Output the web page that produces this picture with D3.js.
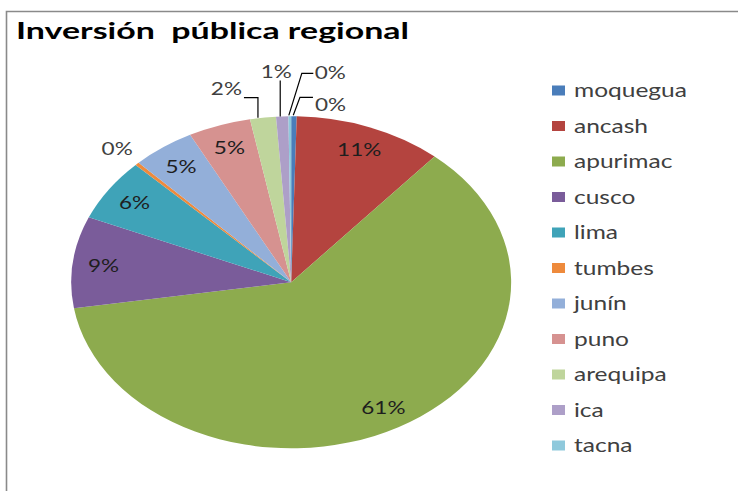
<!DOCTYPE html>
<html>
<head>
<meta charset="utf-8">
<script src="https://cdn.jsdelivr.net/npm/d3@7"></script>
<style>
  html, body { margin: 0; padding: 0; background: #fff; }
  svg { display: block; }
  text { font-family: Lato, "Open Sans", sans-serif; white-space: pre; }
</style>
</head>
<body>
<svg id="chart" width="738" height="491"></svg>
<script>
// ---------- data ----------
const title = "Inversión  pública regional";
const regions = ["moquegua", "ancash", "apurimac", "cusco", "lima", "tumbes", "junín", "puno", "arequipa", "ica", "tacna"];
const values  = [0.4, 10.9, 61.2, 8.9, 6.1, 0.3, 4.6, 4.6, 1.9, 0.9, 0.2];
const colors  = ["#4A7DBA", "#B4443F", "#8DAB4E", "#7A5C9A", "#3FA3B8", "#EE8A3C", "#93AFD9", "#D69290", "#BFD59C", "#AD9FC8", "#8FC9DC"];

// ---------- layout ----------
const W = 738, H = 491;
const sx = 1.325;              // horizontal stretch of the whole chart
const cx = 291.2 / sx, cy = 282.3, R = 166;
const inLabelR = 0.86 * R;
// outside labels (screen px offsets from the slice's outer edge point)
const outside = {
  "tumbes":   {pts: [], anchor: "middle", tx: -20, ty: -16},
  "arequipa": {pts: [[-5,0],[-5,-20],[-19,-20]], anchor: "end", tx: -21, ty: -30},
  "ica":      {pts: [[-2,0],[-2,-36]], anchor: "middle", tx: -6, ty: -45},
  "tacna":    {pts: [[-1,-1],[12,-43],[23.5,-43]], anchor: "start", tx: 25, ty: -44},
  "moquegua": {pts: [[-0.7,-1],[6,-19],[19,-19]], anchor: "start", tx: 21, ty: -12.5}
};

const svg = d3.select("#chart");
svg.append("rect").attr("width", W).attr("height", H).attr("fill", "#fff");
// chart border
svg.append("path").attr("d", `M6.5,${H} V11.5 H${W}`)
  .attr("fill", "none").attr("stroke", "#8a8a8a").attr("stroke-width", 1.6);

const g = svg.append("g").attr("transform", `scale(${sx},1)`);

g.append("text").attr("x", 16 / sx).attr("y", 39.5)
  .attr("font-size", 22.5).attr("font-weight", 700).attr("fill", "#000")
  .attr("textLength", 393 / sx).attr("lengthAdjust", "spacingAndGlyphs")
  .text(title);

const color = d3.scaleOrdinal().domain(regions).range(colors);
const total = d3.sum(values);
const fmt = d3.format(".0%");
const data = regions.map((r, i) => ({name: r, value: values[i]}));

const pie = d3.pie().sort(null).value(d => d.value).startAngle(0).endAngle(2 * Math.PI);
const arcs = pie(data);
const arc = d3.arc().innerRadius(0).outerRadius(R);
const edgeArc = d3.arc().innerRadius(R).outerRadius(R);
const labelArc = d3.arc().innerRadius(inLabelR).outerRadius(inLabelR);

const pg = g.append("g").attr("transform", `translate(${cx},${cy})`);
pg.selectAll("path.slice").data(arcs).join("path")
  .attr("class", "slice")
  .attr("d", arc)
  .attr("fill", d => color(d.data.name));

const labelFont = 17;
arcs.forEach(d => {
  const txt = fmt(d.data.value / total);
  const o = outside[d.data.name];
  if (!o) {
    const [x, y] = labelArc.centroid(d);
    pg.append("text").attr("x", x).attr("y", y)
      .attr("text-anchor", "middle").attr("dominant-baseline", "central")
      .attr("font-size", labelFont).attr("fill", "#1e1e1e").text(txt);
  } else {
    const [ex, ey] = edgeArc.centroid(d);
    if (o.pts.length) {
      pg.append("path")
        .attr("d", d3.line()(o.pts.map(p => [ex + p[0] / sx, ey + p[1]])))
        .attr("fill", "none").attr("stroke", "#000").attr("stroke-width", 1.2)
        .attr("vector-effect", "non-scaling-stroke");
    }
    pg.append("text").attr("x", ex + o.tx / sx).attr("y", ey + o.ty)
      .attr("text-anchor", o.anchor).attr("dominant-baseline", "central")
      .attr("font-size", labelFont).attr("fill", "#404040").text(txt);
  }
});

// legend
const ly = d3.scalePoint().domain(regions).range([90.5, 445.5]);
const lg = g.append("g");
const item = lg.selectAll("g").data(regions).join("g")
  .attr("transform", d => `translate(${552 / sx},${ly(d)})`);
item.append("rect").attr("x", 0).attr("y", -5).attr("width", 13 / sx).attr("height", 10)
  .attr("fill", d => color(d));
item.append("text").attr("x", 22 / sx).attr("y", 0).attr("dominant-baseline", "central")
  .attr("font-size", 18.5).attr("fill", "#404040").text(d => d);
</script>
</body>
</html>
